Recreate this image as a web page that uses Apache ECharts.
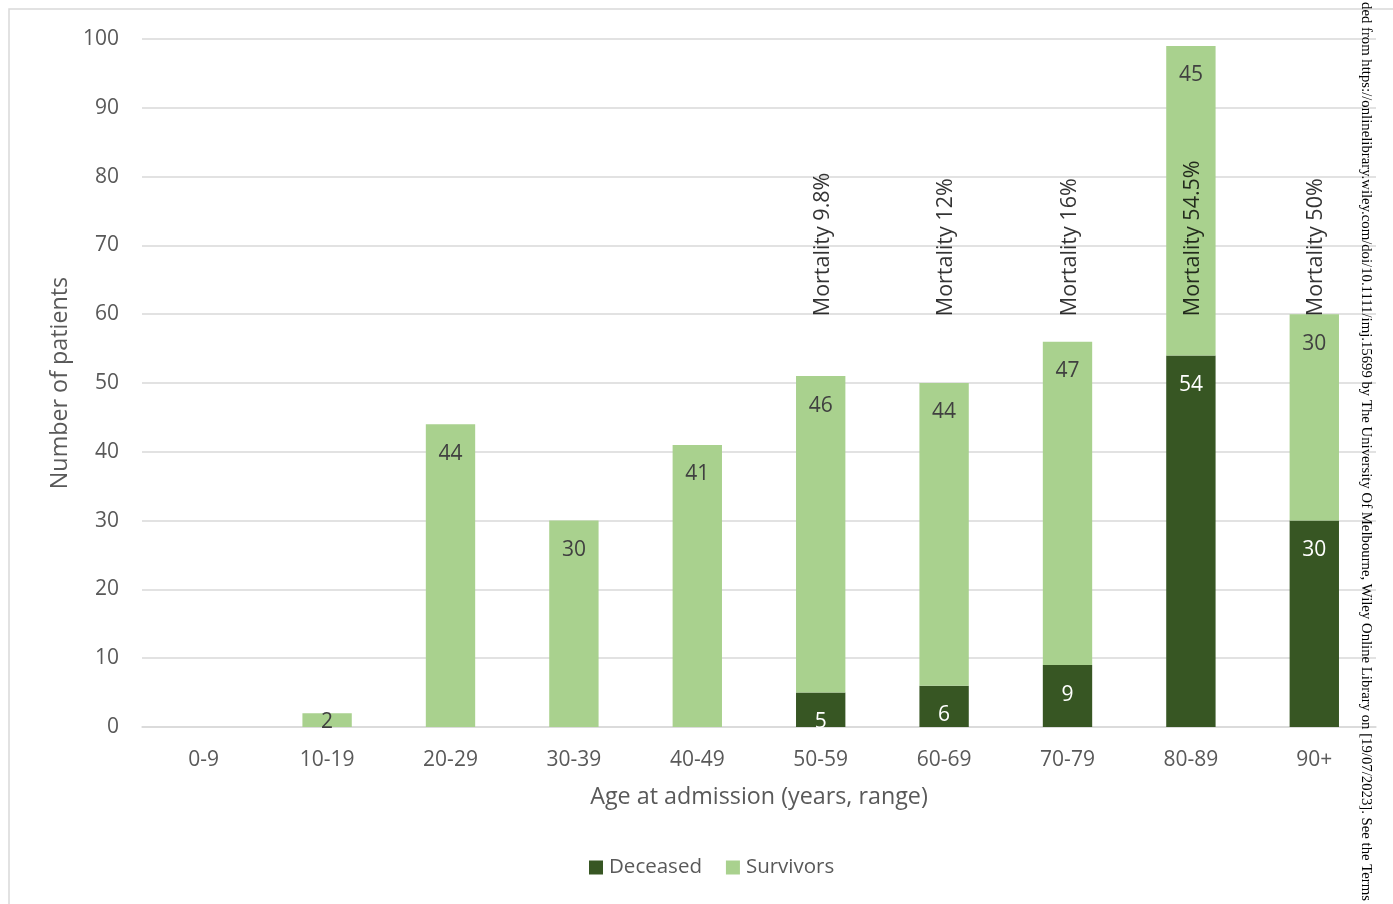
<!DOCTYPE html>
<html>
<head>
<meta charset="utf-8">
<script src="https://cdn.jsdelivr.net/npm/echarts@6/dist/echarts.min.js"></script>
<style>html,body{margin:0;padding:0;background:#fff;}#c{width:1393px;height:904px;}</style>
</head>
<body>
<div id="c"></div>
<script>
const categories = ["0-9","10-19","20-29","30-39","40-49","50-59","60-69","70-79","80-89","90+"];
const deceased = [0,0,0,0,0,5,6,9,54,30];
const survivors = [0,2,44,30,41,46,44,47,45,30];
const mortalityLabels = [null,null,null,null,null,"Mortality 9.8%","Mortality 12%","Mortality 16%","Mortality 54.5%","Mortality 50%"];
const mortalityAnchor = 60;
const yTicks = {min:0, max:100, interval:10};
const watermark = "ded from https://onlinelibrary.wiley.com/doi/10.1111/imj.15699 by The University Of Melbourne, Wiley Online Library on [19/07/2023]. See the Terms";

const FONT = '"Open Sans", Lato, sans-serif';
const chart = echarts.init(document.getElementById('c'));

function barData(arr) {
  return arr.map(v => {
    const item = {value: v};
    if (v > 0 && v < 4) {
      item.label = {distance: -2};
    }
    return item;
  });
}

chart.setOption({
  animation: false,
  textStyle: {fontFamily: FONT},
  grid: {left: 142, right: 17, top: 39, bottom: 177, containLabel: false},
  legend: {
    left: 589, top: 857, padding: 0,
    itemWidth: 14, itemHeight: 14, itemGap: 24,
    icon: 'rect',
    textStyle: {fontFamily: FONT, fontSize: 20.5, color: '#595959', padding: [0,0,0,1]},
    data: ['Deceased','Survivors']
  },
  xAxis: {
    type: 'category',
    data: categories,
    name: 'Age at admission (years, range)',
    nameLocation: 'middle',
    nameGap: 59,
    nameTextStyle: {fontFamily: FONT, fontSize: 23.3, color: '#595959'},
    axisLine: {lineStyle: {color: '#d9d9d9', width: 1.5}},
    axisTick: {show: false},
    axisLabel: {fontFamily: FONT, fontSize: 21, color: '#595959', margin: 23}
  },
  yAxis: {
    type: 'value',
    min: yTicks.min, max: yTicks.max, interval: yTicks.interval,
    name: 'Number of patients',
    nameLocation: 'middle',
    nameGap: 69,
    nameTextStyle: {fontFamily: FONT, fontSize: 23.3, color: '#595959'},
    axisLine: {show: false},
    axisTick: {show: false},
    splitLine: {lineStyle: {color: '#d9d9d9', width: 1.5}},
    axisLabel: {fontFamily: FONT, fontSize: 21, color: '#595959', margin: 23}
  },
  series: [
    {
      name: 'Deceased', type: 'bar', stack: 'total',
      data: barData(deceased),
      barWidth: '40%',
      itemStyle: {color: '#375623'},
      label: {
        show: true, position: 'insideTop', distance: 19,
        fontFamily: FONT, fontSize: 21, color: '#ffffff',
        formatter: p => p.value ? String(p.value) : ''
      }
    },
    {
      name: 'Survivors', type: 'bar', stack: 'total',
      data: barData(survivors),
      barWidth: '40%',
      itemStyle: {color: '#a9d18e'},
      label: {
        show: true, position: 'insideTop', distance: 19,
        fontFamily: FONT, fontSize: 21, color: '#404040',
        formatter: p => p.value ? String(p.value) : ''
      }
    },
    {
      name: 'Mortality', type: 'scatter',
      data: mortalityLabels.map(t => t ? {value: mortalityAnchor, label: {formatter: t}} : null),
      symbolSize: 0,
      silent: true,
      z: 10,
      label: {
        show: true, position: 'top', distance: 0, rotate: 90,
        align: 'left', verticalAlign: 'middle', offset: [-2, 2],
        fontFamily: FONT, fontSize: 21.5, color: '#000000'
      }
    }
  ],
  graphic: [
    {
      type: 'rect', x: 9, y: 9, silent: true,
      shape: {x: 0, y: 0, width: 1420, height: 1000},
      style: {fill: 'none', stroke: '#d9d9d9', lineWidth: 1.5},
      z: -10
    },
    {
      type: 'text', x: 1366, y: 2, rotation: -Math.PI/2, silent: true,
      style: {
        text: watermark, fill: '#000',
        font: '14.75px "Liberation Serif", "DejaVu Serif", serif',
        textAlign: 'left', textVerticalAlign: 'middle'
      },
      z: 100
    }
  ]
});
</script>
</body>
</html>
